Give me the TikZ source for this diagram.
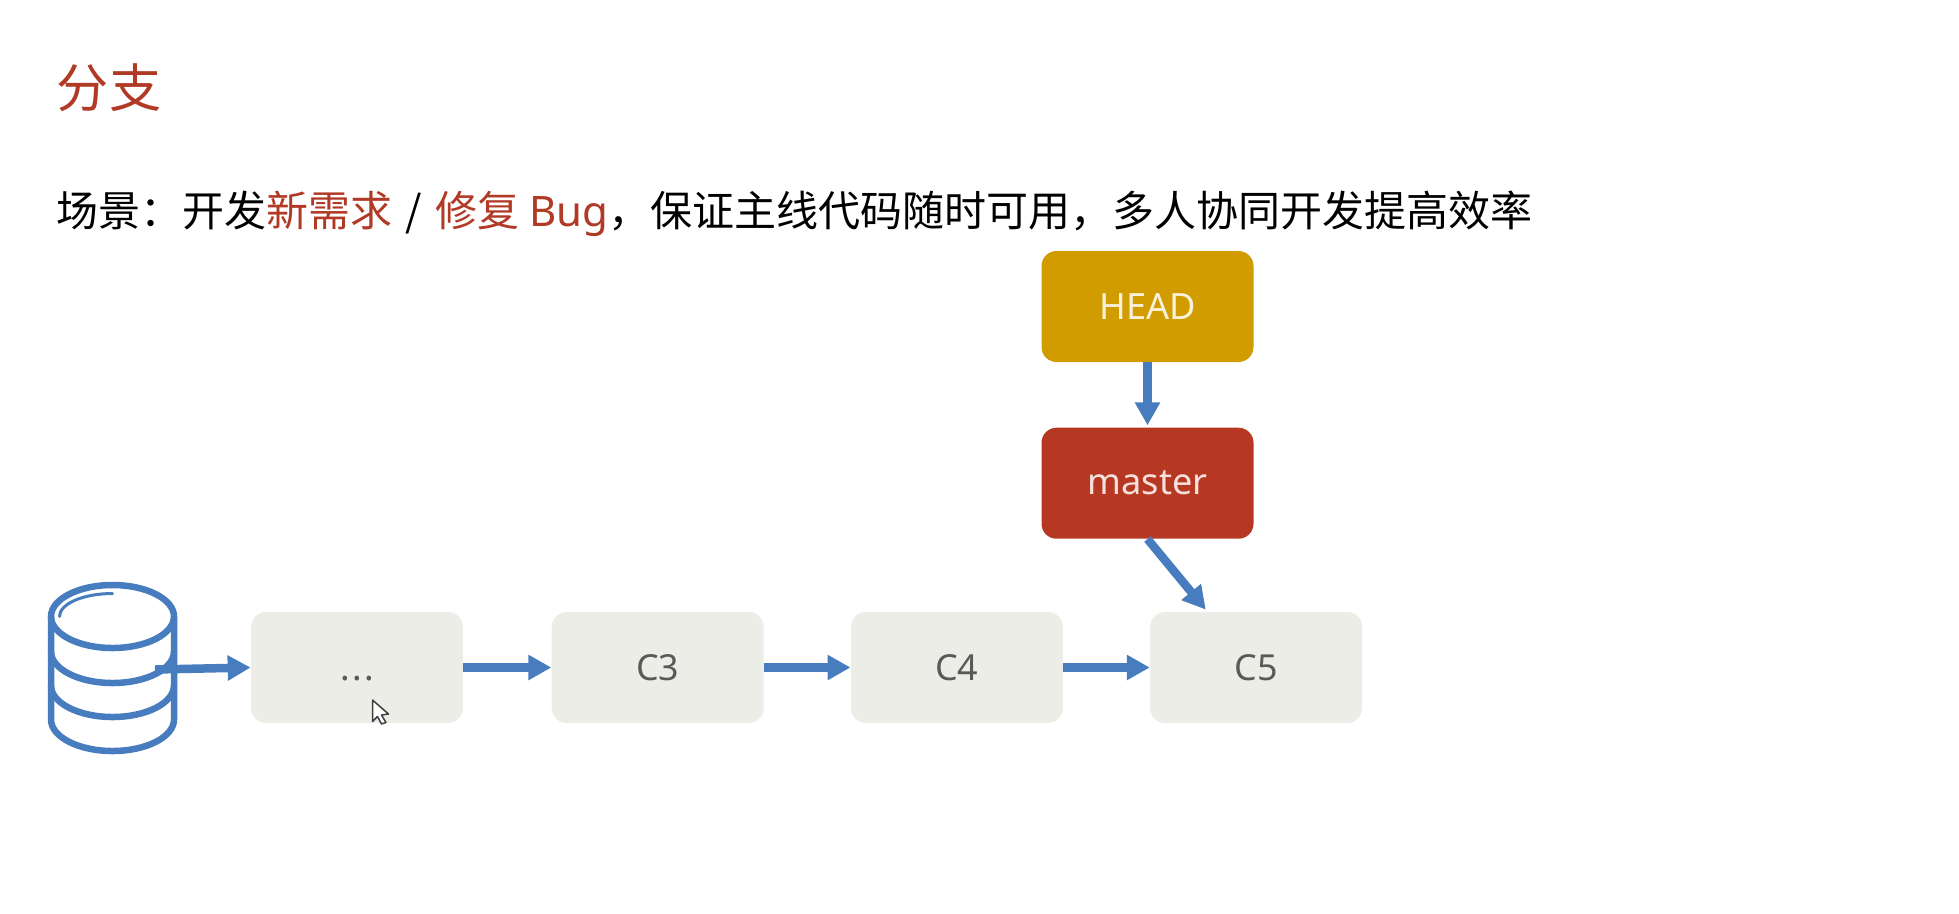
\documentclass[tikz,border=0pt]{standalone}
\usepackage{xcolor}
\usepackage{fontspec}
\setmainfont{Noto Sans}
\newfontfamily\cjk{Noto Sans CJK SC}
\usetikzlibrary{arrows.meta,positioning,calc}
\definecolor{brick}{HTML}{B03A26}
\definecolor{masterred}{HTML}{B73822}
\definecolor{mustard}{HTML}{D09C00}
\definecolor{flowblue}{HTML}{477DBE}
\definecolor{commitbg}{HTML}{ECEDE6}
\definecolor{commitfg}{HTML}{595959}
\tikzset{
  commitbox/.style={
    rectangle, rounded corners=0.3cm, fill=commitbg, text=commitfg,
    minimum width=4.24cm, minimum height=2.22cm,
    font=\fontsize{20.4}{24}\selectfont, align=center, inner sep=0pt
  },
  refbox/.style={
    rectangle, rounded corners=0.3cm, fill=#1, text=white!85!#1,
    minimum width=4.24cm, minimum height=2.22cm,
    font=\fontsize{20.6}{24}\selectfont, align=center, inner sep=0pt
  },
  refbox/.default=masterred,
  flowarrow/.style={
    -{Triangle[length=0.46cm, width=0.48cm]}, line width=0.17cm, color=flowblue
  },
  repoline/.style={
    line width=0.13cm, color=flowblue
  },
  titletext/.style={
    anchor=west, inner sep=0pt, text=brick,
    font=\cjk\fontsize{29.7}{34}\selectfont
  },
  scenetext/.style={
    anchor=west, inner sep=0pt, text=black,
    font=\cjk\fontsize{23.9}{28}\selectfont
  },
}

\begin{document}
\begin{tikzpicture}
  \useasboundingbox (0,0) rectangle (39.18,-18.26);

  % Heading
  \node[titletext] (title) at (1.13,-1.75) {分支};
  \node[scenetext] (scene) at (1.13,-4.27) {场景^^^^ff1a开发\textcolor{brick}{新需求}\hspace{0.07cm} / \hspace{0.08cm}\textcolor{brick}{修复 {\normalfont Bug}}^^^^ff0c保证主线代码随时可用^^^^ff0c多人协同开发提高效率};

  % Commit chain
  \node[commitbox] (c2) at (7.14,-13.35) {\vphantom{C}.\hspace{0.05cm}.\hspace{0.05cm}.};
  \node[commitbox, right=1.76cm of c2] (c3) {C3};
  \node[commitbox, right=1.73cm of c3] (c4) {C4};
  \node[commitbox, right=1.73cm of c4] (c5) {C5};

  % Pointers
  \node[refbox=mustard] (head) at (22.95,-6.13) {HEAD};
  \node[refbox, below=1.3cm of head] (master) {master};

  % Repository
  \coordinate (repo) at (2.25,-12.33);
  \draw[repoline] (repo) ellipse (1.23cm and 0.63cm);
  \draw[repoline] ($(repo)+(-1.23,0)$) -- ++(0,-2.06) arc (180:360:1.23cm and 0.63cm) -- ++(0,2.06);
  \foreach \i in {0.7,1.38} {
    \draw[repoline] ($(repo)+(-1.23,-\i)$) arc (180:360:1.23cm and 0.63cm);
  }
  \draw[flowblue, line width=0.06cm, line cap=round] ($(repo)+(-1.06,0)$) arc (180:90:1.06cm and 0.46cm);

  % Cursor
  \draw[fill=white, draw=black!75, line width=0.03cm, line join=round]
    (7.45,-14.0) -- (7.45,-14.43) -- (7.55,-14.33) -- (7.63,-14.48)
    -- (7.72,-14.45) -- (7.63,-14.3) -- (7.77,-14.28) -- cycle;

  % Connectors
  \coordinate (repoout) at (3.1,-13.39);
  \coordinate (c5in) at ($(c5.north west)+(1.12,0.04)$);
  \draw[flowarrow] (repoout) -- (c2.west);
  \draw[flowarrow] (c2) -- (c3);
  \draw[flowarrow] (c3) -- (c4);
  \draw[flowarrow] (c4) -- (c5);
  \draw[flowarrow, shorten >=0.04cm] (head) -- (master);
  \draw[flowarrow] (master.south) -- (c5in);
\end{tikzpicture}
\end{document}
